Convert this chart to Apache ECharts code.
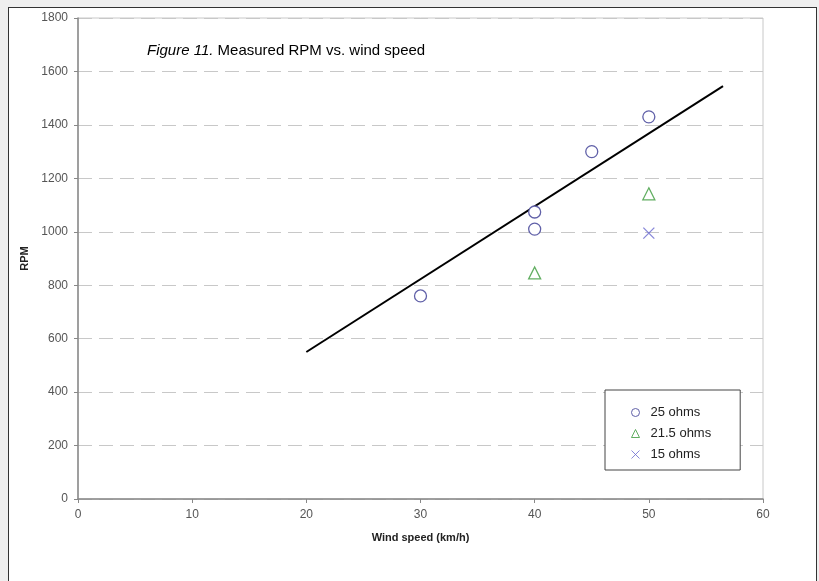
<!DOCTYPE html>
<html>
<head>
<meta charset="utf-8">
<script src="https://cdn.jsdelivr.net/npm/echarts@6/dist/echarts.min.js"></script>
<style>
html,body{margin:0;padding:0;background:#efefef;}
#frame{position:absolute;left:8px;top:7px;width:809px;height:580px;background:#fff;border:1px solid #333;box-sizing:border-box;}
#chart{position:absolute;left:0;top:0;width:819px;height:581px;}
</style>
</head>
<body>
<div id="frame"></div>
<div id="chart"></div>
<script>
const xTicks = [0, 10, 20, 30, 40, 50, 60];
const yTicks = [0, 200, 400, 600, 800, 1000, 1200, 1400, 1600, 1800];
const seriesNames = ['25 ohms', '21.5 ohms', '15 ohms'];
const ohms25 = [[30, 760], [40, 1074], [40, 1010], [45, 1300], [50, 1430]];
const ohms21_5 = [[40, 846], [50, 1142]];
const ohms15 = [[50, 995]];
const trendLine = [[20, 550], [56.5, 1545]];

const chart = echarts.init(document.getElementById('chart'), null, {renderer: 'canvas'});
const font = 'Liberation Sans, Arial, sans-serif';
chart.setOption({
  backgroundColor: 'transparent',
  animation: false,
  textStyle: {fontFamily: font},
  title: {
    text: '{i|Figure 11.} Measured RPM vs. wind speed',
    left: 142, top: 38,
    textStyle: {fontSize: 15, fontWeight: 'normal', color: '#000', fontFamily: font,
      rich: {i: {fontStyle: 'italic', fontSize: 15, color: '#000', fontFamily: font}}}
  },
  grid: {left: 78, top: 18, right: 56, bottom: 82, show: true, borderColor: '#c8c8c8', borderWidth: 1},
  legend: {
    data: seriesNames,
    orient: 'vertical',
    left: 605, top: 390,
    padding: [16, 29, 9, 24],
    itemGap: 8,
    itemWidth: 8, itemHeight: 8,
    itemStyle: {borderWidth: 1},
    borderColor: '#444', borderWidth: 1,
    backgroundColor: '#fff',
    textStyle: {fontSize: 13, color: '#222', fontFamily: font, padding: [0, 0, 0, 6]}
  },
  xAxis: {
    type: 'value', min: xTicks[0], max: xTicks[xTicks.length - 1], interval: 10,
    name: 'Wind speed (km/h)', nameLocation: 'middle', nameGap: 33,
    nameTextStyle: {fontSize: 11, fontWeight: 'bold', color: '#222'},
    axisLine: {lineStyle: {color: '#888', width: 1.5}},
    axisTick: {inside: false, length: 4, lineStyle: {color: '#888'}},
    axisLabel: {fontSize: 12, color: '#555', margin: 10},
    splitLine: {show: false}
  },
  yAxis: {
    type: 'value', min: yTicks[0], max: yTicks[yTicks.length - 1], interval: 200,
    name: 'RPM', nameLocation: 'middle', nameGap: 44, nameRotate: 90,
    nameTextStyle: {fontSize: 11, fontWeight: 'bold', color: '#222'},
    axisLine: {show: true, lineStyle: {color: '#888', width: 1.5}},
    axisTick: {show: true, inside: false, length: 4, lineStyle: {color: '#888'}},
    axisLabel: {fontSize: 12, color: '#555', margin: 10, formatter: v => String(v)},
    splitLine: {show: true, lineStyle: {color: '#c8c8c8', type: [14, 7], width: 1}}
  },
  series: [
    {
      name: 'trend', type: 'line', data: trendLine, showSymbol: false, symbol: 'none',
      lineStyle: {color: '#000', width: 2}, silent: true, z: 3
    },
    {
      name: seriesNames[0], type: 'scatter', data: ohms25, symbol: 'circle', symbolSize: 12,
      itemStyle: {color: '#fff', borderColor: '#6060a8', borderWidth: 1.3, opacity: 1}, z: 4
    },
    {
      name: seriesNames[1], type: 'scatter', data: ohms21_5, symbol: 'triangle', symbolSize: 12,
      itemStyle: {color: 'rgba(255,255,255,0)', borderColor: '#3a9a3a', borderWidth: 1.3}, z: 4
    },
    {
      name: seriesNames[2], type: 'scatter', data: ohms15, symbol: 'path://M0,0L10,10M10,0L0,10', symbolSize: 11,
      itemStyle: {color: 'none', borderColor: '#6a6ad0', borderWidth: 1.3}, z: 4
    }
  ]
});
</script>
</body>
</html>
